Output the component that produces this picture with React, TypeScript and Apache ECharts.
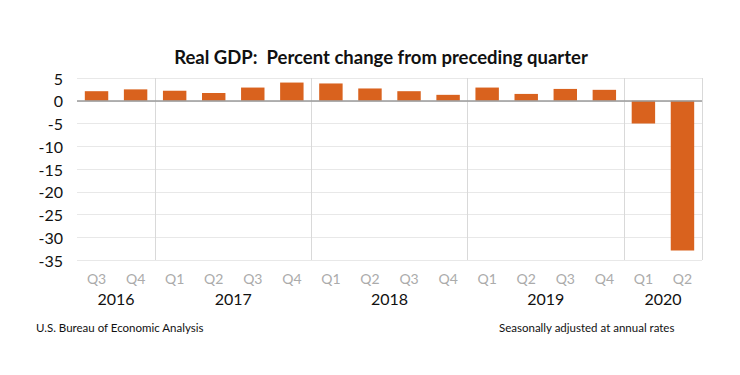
import React, { useEffect, useRef } from "react";
import * as echarts from "echarts";

const quarters = ["Q3", "Q4", "Q1", "Q2", "Q3", "Q4", "Q1", "Q2", "Q3", "Q4", "Q1", "Q2", "Q3", "Q4", "Q1", "Q2"];
const quarterYears = ["2016", "2016", "2017", "2017", "2017", "2017", "2018", "2018", "2018", "2018", "2019", "2019", "2019", "2019", "2020", "2020"];
const gdpChange = [2.1, 2.5, 2.2, 1.7, 2.9, 4.0, 3.8, 2.7, 2.1, 1.3, 2.9, 1.5, 2.6, 2.4, -5.0, -32.9];
const yearLabels = ["2016", "2017", "2018", "2019", "2020"];
const yearCenters = [1, 4, 8, 12, 15];
const yearBoundaries = [2, 6, 10, 14];

const FONT = "Lato";

export default function App() {
  const ref = useRef<HTMLDivElement>(null);
  useEffect(() => {
    if (!ref.current) return;
    const chart = echarts.init(ref.current, null, { renderer: "svg" });
    const cats = quarters.map((q, i) => quarterYears[i] + " " + q);
    chart.setOption({
      animation: false,
      textStyle: { fontFamily: FONT },
      title: {
        text: "Real GDP:  Percent change from preceding quarter",
        left: 376,
        textAlign: "center",
        top: 42,
        textStyle: { fontFamily: FONT, fontSize: 18.5, fontWeight: "bold", color: "#111" },
      },
      graphic: [
        { type: "text", left: 36, top: 321, style: { text: "U.S. Bureau of Economic Analysis", font: "11.5px " + FONT, fill: "#111" } },
        { type: "text", left: 499, top: 321, style: { text: "Seasonally adjusted at annual rates", font: "11.5px " + FONT, fill: "#111" } },
      ],
      grid: { left: 77, right: 38, top: 78, bottom: 115 },
      xAxis: [
        {
          type: "category",
          data: cats,
          axisLine: { show: false },
          axisTick: { show: false },
          axisLabel: {
            color: "#ababab",
            fontSize: 14,
            margin: 11,
            formatter: (v: string) => v.split(" ")[1],
          },
          splitLine: {
            show: true,
            interval: (index: number) => yearBoundaries.indexOf(index) >= 0,
            lineStyle: { color: "#d9d9d9", width: 1 },
          },
        },
        {
          type: "value",
          position: "bottom",
          min: 0,
          max: 16,
          interval: 1,
          axisLine: { show: false },
          axisTick: { show: false },
          splitLine: { show: false },
          axisLabel: {
            color: "#111",
            fontSize: 16,
            margin: 30,
            showMinLabel: true,
            showMaxLabel: true,
            formatter: (v: number) => {
              const i = yearCenters.indexOf(v);
              return i >= 0 ? yearLabels[i] : "";
            },
          },
        },
      ],
      yAxis: {
        type: "value",
        min: -35,
        max: 5,
        interval: 5,
        axisLine: { show: false },
        axisTick: { show: false },
        axisLabel: { color: "#111", fontSize: 16, margin: 14 },
        splitLine: { lineStyle: { color: "#e8e8e8", width: 1 } },
      },
      series: [
        {
          type: "bar",
          data: gdpChange,
          barCategoryGap: "40%",
          itemStyle: { color: "#d9621e" },
          markLine: {
            silent: true,
            symbol: "none",
            label: { show: false },
            lineStyle: { color: "#9a9a9a", type: "solid", width: 1.5 },
            data: [{ yAxis: 0 }],
          },
        },
      ],
    });
    return () => chart.dispose();
  }, []);
  return <div ref={ref} style={{ position: "absolute", left: 0, top: 0, width: 740, height: 375 }} />;
}
